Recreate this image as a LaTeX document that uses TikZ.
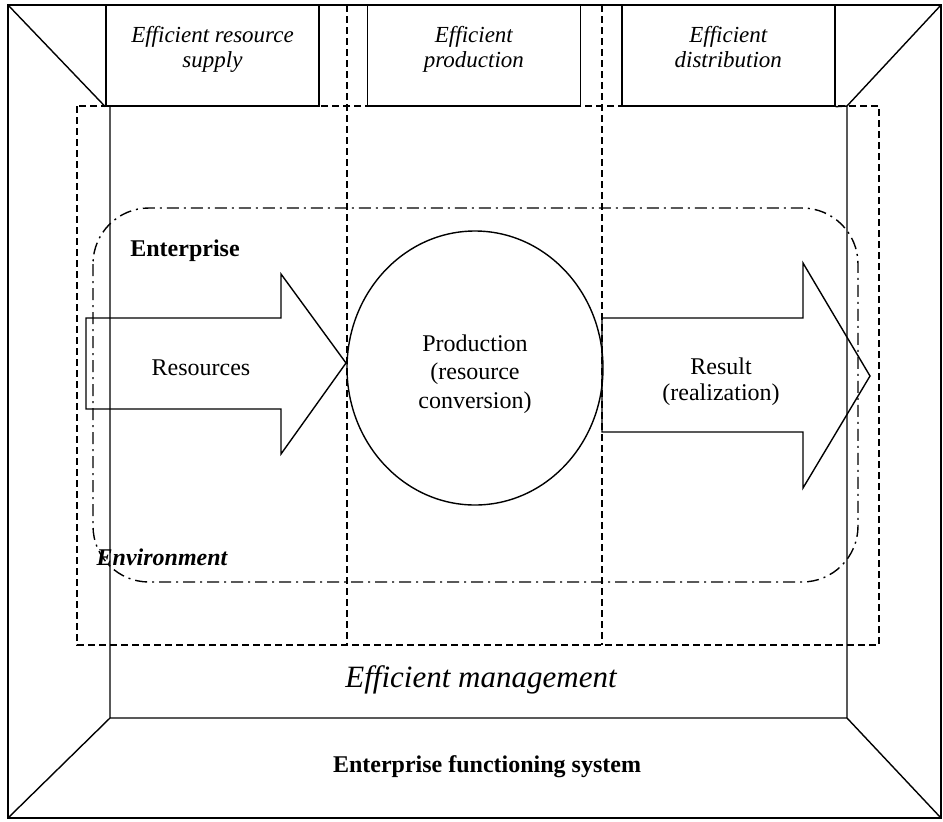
\documentclass[tikz,border=0pt]{standalone}
\usepackage{fontspec}
\setmainfont{Liberation Serif}
\usepackage{tikz}
\usetikzlibrary{
	calc, positioning, shapes.geometric
}
\tikzstyle{topbox} = [rectangle, minimum width= 106.5pt, minimum height= 50.5pt, draw = black, inner sep=0pt]
\tikzstyle{boxtext} = [font=\fontsize{11.5}{12.5}\selectfont\itshape, align=center, inner sep=0pt]
\tikzstyle{convert} = [ellipse, minimum width= 128pt, minimum height= 137pt, draw = black, inner sep=0pt]
\tikzstyle{plain} = [inner sep=0pt, align=center]
\tikzstyle{border} = [dash pattern=on 3.5pt off 2pt]
\tikzstyle{company} = [dash pattern=on 6pt off 2.5pt on 1pt off 2.5pt, rounded corners=28pt]

\begin{document}
\begin{tikzpicture} [x=0.5pt, y=-0.5pt, line width=0.7pt]
			\tikzstyle{every node}=[font=\fontsize{12}{14}\selectfont]
			\useasboundingbox (0,0) rectangle (943,821);
			
			% top boxes
			\node [topbox] (supply) at (212.5,55.5) {};
			\node [topbox, right = 23.5pt of supply] (produce) {};
			\node [topbox, right = 20pt of produce] (distrib) {};
			\node [boxtext, below = 10.5pt of supply.north] {Efficient resource\\supply};
			\node [boxtext, below = 10.5pt of produce.north] {Efficient\\production};
			\node [boxtext, below = 10.5pt of distrib.north] {Efficient\\distribution};
			
			% frame
			\draw (8,5) rectangle (941,818);
			\draw (distrib.south east) -- (847,106) -- (847,718) -- (110,718) -- (110,106);
			\draw (8,5) -- (supply.south west);
			\draw (941,5) -- (847,106);
			\draw (8,818) -- (110,718);
			\draw (941,818) -- (847,718);
			
			% dashed borders
			\draw [border] (77,106) rectangle (879,645);
			\draw [border] (347,5) -- (347,645);
			\draw [border] (602,5) -- (602,645);
			\draw [company] (93,208) rectangle (858,582);
			
			% production
			\node [convert] (conversion) at (475,368) {};
			\node [plain, font=\fontsize{12}{14.3}\selectfont] at (475,374) {Production\\(resource\\conversion)};
			
			% arrows
			\draw (86,318) -- (281,318) -- (281,274) -- (346,363) -- (281,454) -- (281,409) -- (86,409) -- cycle;
			\draw (602,318) -- (803,318) -- (803,263) -- (870,376) -- (803,488) -- (803,432) -- (602,432) -- cycle;
			\node [plain] (resources) at (201,368) {Resources};
			\node [plain, font=\fontsize{12}{13}\selectfont] (result) at (721,382) {Result\\(realization)};
			
			% labels
			\node [plain, font=\fontsize{12}{14}\selectfont\bfseries] (enterprise) at (185,251) {Enterprise};
			\node [plain, font=\fontsize{12}{14}\selectfont\bfseries\itshape] (environment) at (162,557) {Environment};
			\node [plain, font=\fontsize{15.5}{17}\selectfont\itshape] (management) at (481,680) {Efficient management};
			\node [plain, font=\fontsize{12}{14}\selectfont\bfseries] (system) at (487,767) {Enterprise functioning system};
			
		\end{tikzpicture}
\end{document}
